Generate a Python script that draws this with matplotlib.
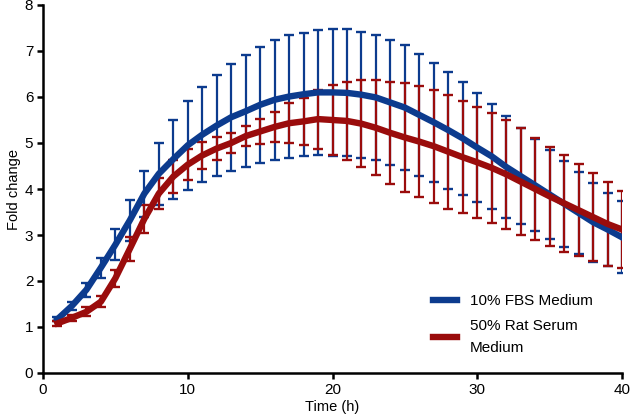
import matplotlib
matplotlib.use("Agg")
import matplotlib.pyplot as plt
from matplotlib.lines import Line2D
import numpy as np

plt.rcParams['font.family'] = ['Liberation Sans', 'DejaVu Sans']

# Time points (h)
hours = np.arange(1, 41)

# 10% FBS Medium: mean fold change and SD
fbs_mean = [1.17, 1.46, 1.81, 2.29, 2.79, 3.32, 3.90, 4.33, 4.65, 4.95,
            5.18, 5.38, 5.56, 5.69, 5.83, 5.94, 6.01, 6.06, 6.10, 6.10,
            6.09, 6.05, 5.99, 5.88, 5.77, 5.61, 5.45, 5.28, 5.10, 4.90,
            4.71, 4.48, 4.28, 4.08, 3.88, 3.68, 3.48, 3.28, 3.12, 2.95]
fbs_sd = [0.05, 0.09, 0.15, 0.22, 0.33, 0.45, 0.50, 0.67, 0.86, 0.97,
          1.03, 1.10, 1.16, 1.22, 1.26, 1.30, 1.33, 1.34, 1.36, 1.38,
          1.38, 1.37, 1.36, 1.36, 1.35, 1.32, 1.30, 1.27, 1.23, 1.18,
          1.14, 1.10, 1.05, 1.00, 0.96, 0.93, 0.89, 0.86, 0.79, 0.78]

# 50% Rat Serum Medium: mean fold change and SD
rat_mean = [1.08, 1.20, 1.33, 1.55, 2.06, 2.70, 3.35, 3.90, 4.27, 4.53,
            4.73, 4.88, 5.00, 5.15, 5.25, 5.35, 5.43, 5.47, 5.52, 5.50,
            5.48, 5.42, 5.33, 5.22, 5.12, 5.03, 4.93, 4.81, 4.69, 4.58,
            4.46, 4.32, 4.16, 4.00, 3.84, 3.69, 3.54, 3.39, 3.24, 3.12]
rat_sd = [0.06, 0.07, 0.10, 0.12, 0.19, 0.26, 0.31, 0.33, 0.36, 0.33,
          0.30, 0.24, 0.22, 0.22, 0.27, 0.33, 0.43, 0.51, 0.64, 0.76,
          0.85, 0.94, 1.03, 1.11, 1.19, 1.21, 1.23, 1.24, 1.22, 1.21,
          1.20, 1.19, 1.16, 1.11, 1.08, 1.05, 1.00, 0.96, 0.91, 0.84]

labels = ['10% FBS Medium', '50% Rat Serum\nMedium']
blue = '#0c3b8e'
red = '#9a0c0c'

fig = plt.figure(figsize=(6.3, 4.18), dpi=100)
ax = fig.add_axes([43/630, 1 - 373/418, (622 - 43)/630, (373 - 5)/418])

ax.errorbar(hours, fbs_mean, yerr=fbs_sd, color=blue, lw=4.6,
            elinewidth=1.6, capsize=3.4, capthick=1.7)
ax.errorbar(hours, rat_mean, yerr=rat_sd, color=red, lw=4.6,
            elinewidth=1.6, capsize=3.4, capthick=1.7)

ax.set_xlim(0, 40)
ax.set_ylim(0, 8)
ax.set_xticks([0, 10, 20, 30, 40])
ax.set_yticks(range(0, 9))
for s in ['top', 'right']:
    ax.spines[s].set_visible(False)
for s in ['left', 'bottom']:
    ax.spines[s].set_linewidth(1.8)
    ax.spines[s].set_clip_on(False)
ax.tick_params(width=1.8, length=4, labelsize=11, pad=3)

ax.set_xlabel('Time (h)', fontsize=10.5, labelpad=2)
ax.set_ylabel('Fold change', fontsize=10.5, labelpad=3)

handles = [Line2D([], [], color=blue, lw=4.6),
           Line2D([], [], color=red, lw=4.6)]
leg = ax.legend(handles, labels, loc='upper left',
                bbox_to_anchor=(433/630, 1 - 294/418),
                bbox_transform=fig.transFigure, frameon=False, fontsize=11,
                borderpad=0, borderaxespad=0, handlelength=1.6,
                handletextpad=0.8, labelspacing=0.7)
for t in leg.get_texts():
    t.set_linespacing(1.75)

fig.savefig('out.png', dpi=100)
